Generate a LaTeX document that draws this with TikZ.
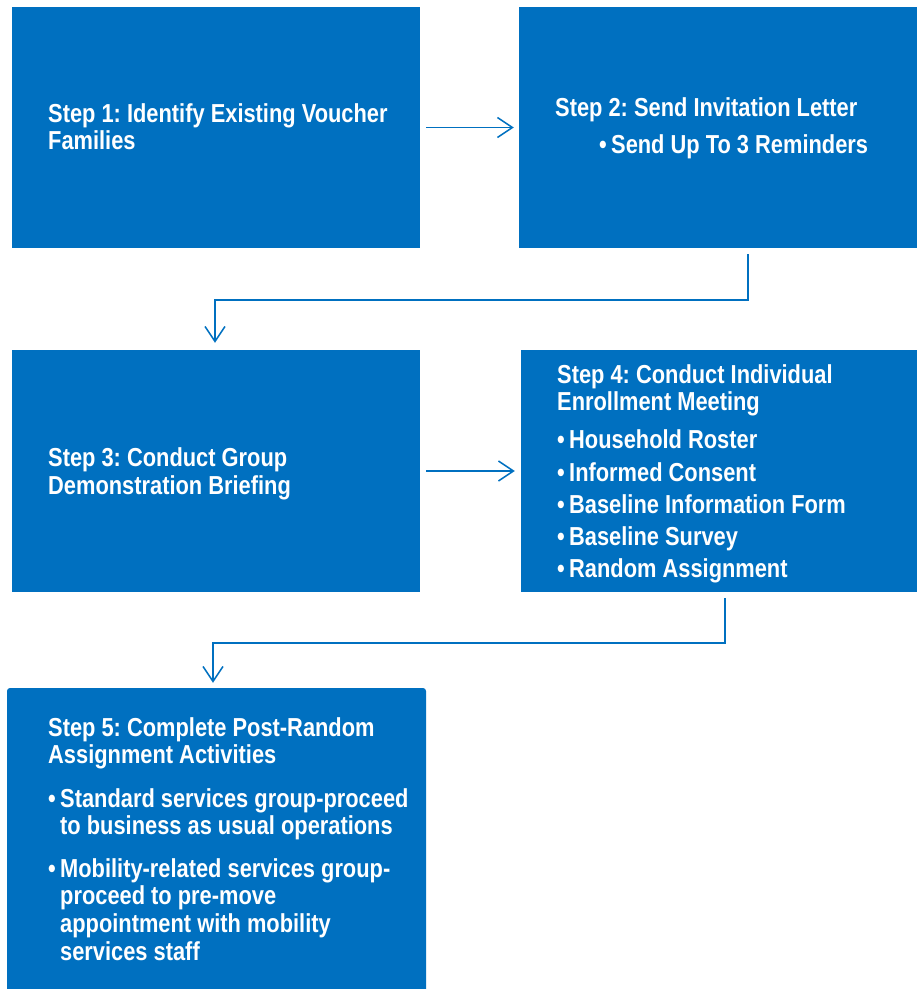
\documentclass[tikz,border=0pt]{standalone}
\usepackage{fontspec}
\setmainfont{Liberation Sans}[FakeStretch=0.84]
\usetikzlibrary{arrows.meta}
\definecolor{stepblue}{HTML}{0070C0}
\newcommand{\bul}{\makebox[12pt][l]{•}}
\frenchspacing
\begin{document}
\begin{tikzpicture}[x=1pt,y=-1pt,
  stepbox/.style={fill=stepblue,draw=none,inner sep=0pt,rectangle},
  txt/.style={anchor=base west,inner sep=0pt,text=white,font=\bfseries\fontsize{26}{28}\selectfont},
  arr/.style={draw=stepblue,line width=1.5pt,-{Straight Barb[length=15pt,width=20pt]}}]
\useasboundingbox (0,0) rectangle (917,989);
% boxes
\node[stepbox,minimum width=408pt,minimum height=241pt] (b1) at (216,127.5) {};
\node[stepbox,minimum width=398pt,minimum height=241pt] (b2) at (718,127.5) {};
\node[stepbox,minimum width=408pt,minimum height=242pt] (b3) at (216,471) {};
\node[stepbox,minimum width=396pt,minimum height=242pt] (b4) at (719,471) {};
\node[stepbox,rounded corners=3pt,minimum width=419pt,minimum height=311pt] (b5) at (216.5,843.5) {};
% texts box 1
\node[txt] (t1a) at (48,122) {Step 1: Identify Existing Voucher};
\node[txt] (t1b) at (48,149) {Families};
% box 2
\node[txt] (t2a) at (555,116) {Step 2: Send Invitation Letter};
\node[txt] (t2b) at (599,153) {\bul Send Up To 3 Reminders};
% box 3
\node[txt] (t3a) at (48,466) {Step 3: Conduct Group};
\node[txt] (t3b) at (48,494) {Demonstration Briefing};
% box 4
\node[txt] (t4a) at (557,383) {Step 4: Conduct Individual};
\node[txt] (t4b) at (557,410) {Enrollment Meeting};
\node[txt] (t4c) at (557,448) {\bul Household Roster};
\node[txt] (t4d) at (557,481) {\bul Informed Consent};
\node[txt] (t4e) at (557,513) {\bul Baseline Information Form};
\node[txt] (t4f) at (557,545) {\bul Baseline Survey};
\node[txt] (t4g) at (557,577) {\bul Random Assignment};
% box 5
\node[txt] (t5a) at (48,736) {Step 5: Complete Post-Random};
\node[txt] (t5b) at (48,763) {Assignment Activities};
\node[txt] (t5c) at (48,807) {\bul Standard services group-proceed};
\node[txt] (t5d) at (60,834) {to business as usual operations};
\node[txt] (t5e) at (48,877) {\bul Mobility-related services group-};
\node[txt] (t5f) at (60,904) {proceed to pre-move};
\node[txt] (t5g) at (60,932) {appointment with mobility};
\node[txt] (t5h) at (60,960) {services staff};
% connectors
\draw[arr,shorten <=6pt,shorten >=5pt] (b1.east) -- (b2.west);
\draw[arr,shorten <=6pt,shorten >=6pt] (b3.east) -- (b4.west);
\draw[arr,shorten <=6pt,shorten >=7pt] ([xshift=30pt]b2.south) -- ++(0,52) -| ([xshift=-1pt]b3.north);
\draw[arr,shorten <=6pt,shorten >=5pt] ([xshift=6pt]b4.south) -- ++(0,51) -| ([xshift=-3.5pt]b5.north);
\end{tikzpicture}
\end{document}
